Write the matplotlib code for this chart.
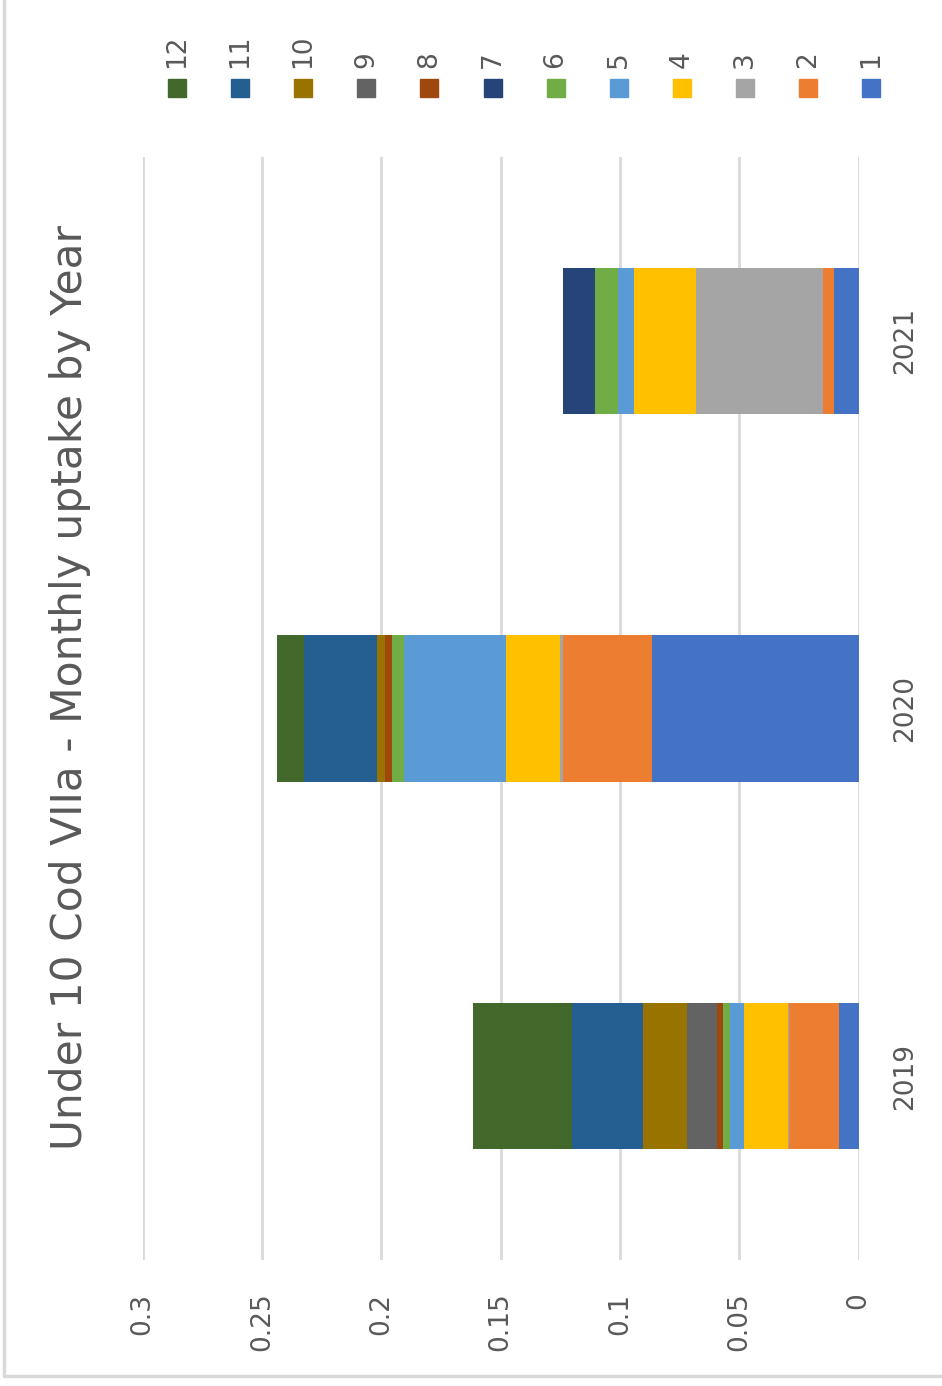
"""
Under 10 Cod VIIa - monthly uptake by year (stacked columns, rotated page)
"""
import numpy as np
import matplotlib.pyplot as plt
from matplotlib.patches import Rectangle
from matplotlib.lines import Line2D

years = ["2019", "2020", "2021"]
months = ["1", "2", "3", "4", "5", "6", "7", "8", "9", "10", "11", "12"]

# uptake per month (1..12) for each year
uptake_2019 = [0.0080, 0.0210, 0.0004, 0.0184, 0.0059, 0.0031,
               0.0, 0.0024, 0.0127, 0.0183, 0.0300, 0.0414]
uptake_2020 = [0.0867, 0.0370, 0.0014, 0.0226, 0.0426, 0.0052,
               0.0, 0.0029, 0.0, 0.0032, 0.0310, 0.0111]
uptake_2021 = [0.0103, 0.0045, 0.0535, 0.0259, 0.0068, 0.0095,
               0.0133, 0.0, 0.0, 0.0, 0.0, 0.0]

value_ticks = [0, 0.05, 0.1, 0.15, 0.2, 0.25, 0.3]
value_labels = ["0", "0.05", "0.1", "0.15", "0.2", "0.25", "0.3"]
title = "Under 10 Cod VIIa - Monthly uptake by Year"

colors = ["#4472C4", "#ED7D31", "#A5A5A5", "#FFC000", "#5B9BD5", "#70AD47",
          "#264478", "#9E480E", "#636363", "#997300", "#255E91", "#43682B"]
text_col = "#595959"
grid_col = "#D9D9D9"

W, H = 942, 1386


def fx(px):
    return px / W


def fy(py):
    return 1 - py / H


fig = plt.figure(figsize=(W / 100, H / 100), dpi=100)
ax = fig.add_axes([fx(142.7), fy(1260), (858.5 - 142.7) / W, 1103 / H])

data = np.array([uptake_2019, uptake_2020, uptake_2021])
ypos = np.arange(len(years))
left = np.zeros(len(years))
for i, m in enumerate(months):
    vals = data[:, i]
    ax.barh(ypos, vals, left=left, height=0.398, color=colors[i],
            linewidth=0, label=m)
    left += vals

ax.set_xlim(0.3, 0)
ax.set_ylim(-0.5, 2.5)
ax.set_xticks(value_ticks)
ax.set_xticklabels(value_labels, rotation=90)
ax.xaxis.grid(True, color=grid_col, linewidth=2)
ax.set_axisbelow(True)
ax.tick_params(axis="x", length=0, pad=23.5, labelsize=19, labelcolor=text_col)

ax.yaxis.tick_right()
ax.set_yticks(ypos)
ax.set_yticklabels(years, rotation=90, va="center")
ax.tick_params(axis="y", length=0, pad=24.5, labelsize=19, labelcolor=text_col)
for s in ax.spines.values():
    s.set_visible(False)

# title, rotated with the page
fig.text(fx(70), fy(687), title, rotation=90, ha="center", va="center",
         fontsize=30.5, color=text_col)

# legend along the top, months in reverse order (12 ... 1)
leg_x0, leg_dx = 177, 63.1
for k, m in enumerate(months[::-1]):
    x = leg_x0 + k * leg_dx
    fig.add_artist(Rectangle((fx(x - 9), fy(97)), 18 / W, 18 / H,
                             transform=fig.transFigure,
                             color=colors[len(months) - 1 - k]))
    fig.text(fx(x), fy(68), m, rotation=90, ha="center", va="bottom",
             fontsize=19, color=text_col)

# chart frame: only left and bottom edges are visible
fig.add_artist(Line2D([fx(4), fx(4), fx(W)], [fy(0), fy(1376), fy(1376)],
                      transform=fig.transFigure, color=grid_col,
                      linewidth=2.5))

fig.savefig("out.png", dpi=100)
